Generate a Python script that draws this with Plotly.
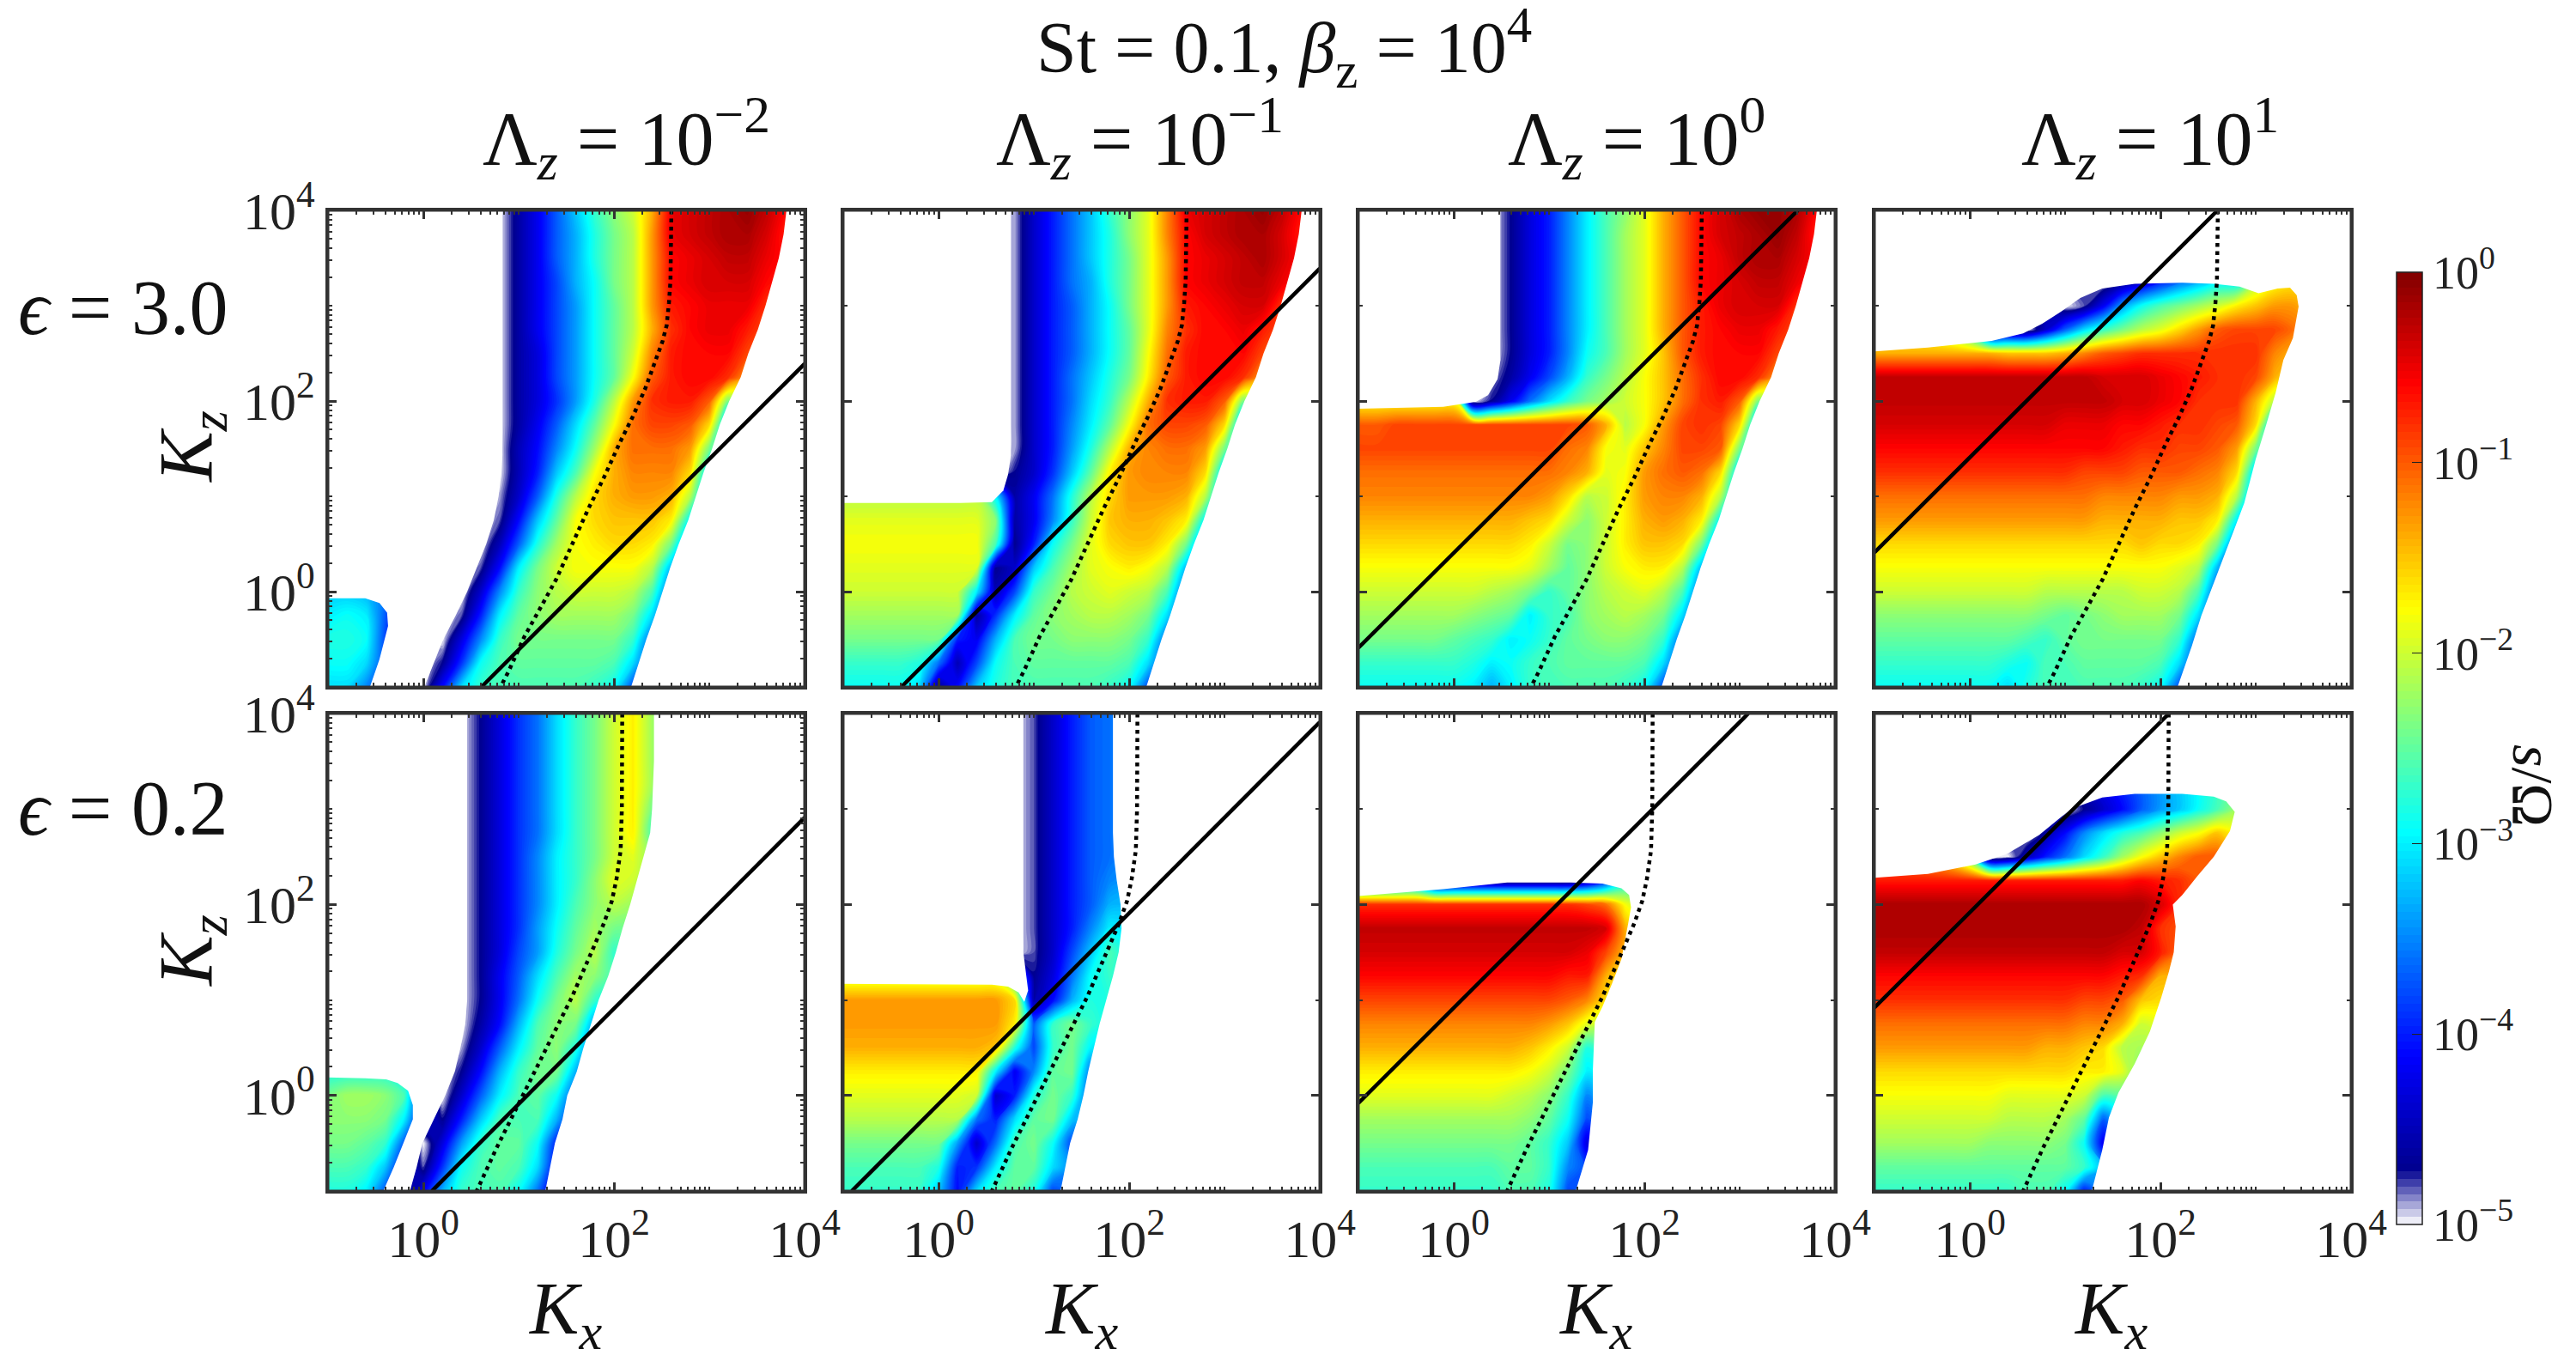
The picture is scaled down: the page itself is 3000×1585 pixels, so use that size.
import numpy as np
import plotly.graph_objects as go

_ = None
LOG_KX = [-1 + 0.2 * i for i in range(26)]
LOG_KZ_DOWN = [4 - 0.25 * j for j in range(21)]

# values are -10*log10(s/Omega); None = not read (covered by the blank region)
P11 = [
[50]*10+[46,42,37,32,27,23,20,14,5,4,3,2,1,3,6],
[50]*10+[46,42,37,33,28,24,21,13,5,4,3,2,2,4,7],
[50]*10+[46,42,37,33,28,24,21,13,6,5,4,3,3,5],
[50]*10+[46,42,38,33,29,24,21,13,6,5,4,4,4,6],
[50]*10+[46,42,38,34,29,25,21,13,7,6,5,5,5,8],
[50]*10+[46,42,38,34,29,25,21,14,8,6,5,5,7],
[50]*10+[46,43,38,34,29,25,20,12,7,6,6,6,9],
[50]*10+[46,43,38,34,29,25,18,10,7,6,6,8],
[50]*10+[46,43,39,34,28,21,13,8,7,7,10,24],
[50]*10+[46,42,37,31,25,18,11,9,9,10,16,34],
[50]*10+[45,41,35,29,22,14,11,11,11,13,24],
[50]*10+[45,40,32,26,18,14,12,12,12,16,32],
[50]*9+[49,44,37,28,21,16,14,13,13,14,21,36],
[50]*9+[48,41,32,25,18,16,15,15,15,17,30],
[50]*9+[45,37,28,22,18,17,16,16,17,24,38],
[50]*8+[48,41,30,24,20,18,18,18,18,21,33],
[32,32,33,36]+[50]*4+[44,35,27,23,21,20,20,20,21,26,38],
[30,29,30,37,_,_,50,48,40,30,25,23,22,22,22,22,24,31,40],
[28,28,29,38,_,_,50,43,35,27,24,24,24,24,24,24,27,37],
[29,29,31,_,_,50,47,39,29,26,25,25,25,25,25,26,31,40],
[31,31,35,_,_,50,41,31,27,26,26,26,26,26,27,29,38],
]
P12 = [
[50]*9+[49,44,40,36,32,27,23,19,12,5,4,3,2,1,3,6],
[50]*9+[49,44,40,36,32,28,23,19,12,6,4,3,2,2,4,7],
[50]*9+[49,44,40,36,32,28,24,19,13,6,5,4,3,2,4],
[50]*9+[49,44,40,36,33,28,24,19,13,6,5,4,3,3,5],
[50]*9+[49,44,40,37,33,29,24,19,13,7,6,5,4,4,8],
[50]*9+[49,44,40,37,33,29,25,19,12,8,6,6,5,7],
[50]*9+[49,44,40,37,33,29,25,18,11,7,6,6,6,9],
[50]*9+[49,44,40,36,32,28,24,17,10,7,6,6,8],
[50]*9+[49,44,40,36,31,27,21,14,8,7,7,10,24],
[50]*9+[49,44,40,35,30,25,18,11,9,9,10,16,34],
[50]*9+[49,44,40,34,28,21,14,12,11,11,13,24],
[50]*9+[47,44,39,32,25,17,13,12,12,12,16,32],
[21]*8+[30,46,42,36,28,21,16,13,13,13,14,21,36],
[19]*8+[23,46,42,35,27,20,15,14,14,15,17,30],
[18]*8+[26,47,40,29,24,19,16,15,15,17,24,38],
[19]*8+[47,44,32,26,22,19,18,17,18,21,33],
[20]*7+[30,45,38,27,24,21,20,19,20,21,26,38],
[22]*7+[46,39,30,25,23,22,21,21,22,24,31,40],
[24]*6+[40,42,33,26,24,24,23,23,23,24,27,37],
[27,27,27,27,28,36,45,38,29,26,25,25,25,25,25,26,31,40],
[29,29,29,29,31,47,41,32,28,26,26,26,26,26,27,29,38],
]
P13 = [
[50]*8+[47,43,40,35,30,26,23,19,14,10,6,4,2,1,1,2,6],
[50]*8+[47,43,40,35,30,26,22,19,14,10,6,4,3,2,1,3,7],
[50]*8+[47,43,40,35,30,26,22,19,14,10,6,5,3,2,2,4],
[50]*8+[47,43,40,35,30,26,22,19,14,10,6,5,4,3,3,5],
[50]*8+[47,43,40,35,30,26,22,19,14,10,7,5,4,4,4,8],
[50]*8+[47,43,40,35,30,26,22,19,14,10,7,6,5,5,7],
[50]*8+[47,43,40,35,29,26,22,19,15,10,7,6,6,6,9],
[50]*7+[49,46,42,38,33,27,24,21,18,15,11,8,6,6,8],
[18]*6+[50,47,42,36,31,27,24,22,20,18,15,11,8,7,10,24],
[10,10,9,9,9,9,9,9,9,9,9,9,10,14,21,18,13,9,8,9,16,34],
[9]*11+[11,12,18,19,15,12,9,9,10,24],
[11]*11+[12,14,19,18,13,11,10,11,16,32],
[12]*10+[13,16,21,20,17,13,12,12,14,21,36],
[14]*9+[15,16,20,23,20,17,14,13,14,17,30],
[16]*9+[17,20,24,23,20,17,15,15,16,24,38],
[18]*9+[19,22,25,23,20,18,17,17,21,33],
[20]*7+[21,22,24,27,25,23,21,20,19,21,26,38],
[22]*6+[23,24,25,30,27,26,23,22,21,22,24,31,40],
[24]*5+[25,26,27,30,29,27,25,24,23,23,24,27,37],
[27]*6+[28,30,29,27,26,25,25,25,25,26,31,40],
[29]*6+[30,33,30,27,26,26,26,26,27,29,38],
]
P14 = [
[_]*26,
[_]*26,
[_]*26,
[_]*12+[50,47,44,40,36,33,30,30],
[_]*10+[50,48,42,34,29,26,24,22,20,17,15,13,13],
[_]*6+[50,50,50,44,37,31,27,24,21,19,16,13,10,9,9,9,11],
[14]*7+[15,15,15,14,12,10,9,8,8,8,8,8,8,8,12],
[3]*12+[4,4,4,5,6,7,8,8,9,14],
[3]*13+[4,4,5,6,8,8,8,14],
[4]*10+[5,5,5,6,6,7,8,8,9,10,16,34],
[6]*13+[7,8,8,9,9,10,13,24],
[8]*11+[9,9,9,10,10,10,11,12,16,32],
[11]*12+[12,12,12,12,13,13,14,21,36],
[13]*12+[14,14,14,14,15,15,17,30],
[16]*14+[15,16,16,17,24,38],
[18]*15+[18,19,21,33],
[20]*9+[21,21,21,21,21,20,20,21,26,38],
[23]*9+[24,25,24,23,22,22,22,24,31,40],
[25]*8+[26,27,25,24,24,24,24,24,27,37],
[27]*7+[28,29,26,26,25,25,25,25,26,31,40],
[29]*7+[31,28,26,26,26,26,26,27,29,38],
]
P21 = [
[50]*8+[47,43,39,36,31,27,24,20,17,22],
[50]*8+[47,43,39,36,31,27,24,20,17,22],
[50]*8+[47,43,39,36,31,27,24,20,17,22],
[50]*8+[47,43,39,36,31,27,24,20,17,22],
[50]*8+[47,43,39,36,31,27,24,20,17,24],
[50]*8+[47,43,39,36,31,27,24,20,17,26],
[50]*8+[47,43,39,35,30,27,24,20,19],
[50]*8+[47,43,39,35,30,27,23,19,20],
[50]*8+[47,43,39,35,30,26,23,21],
[50]*8+[47,43,39,34,29,25,22,24],
[50]*8+[47,43,38,34,28,24,21,27],
[50]*8+[47,42,37,31,26,22,23],
[50]*8+[47,42,36,29,24,21,27],
[50]*8+[46,41,33,26,23,24,34],
[50]*7+[49,44,37,30,25,23,28,38],
[28,28,28,28,30,50,50,47,41,33,27,24,24,33],
[24,22,22,23,26,_,50,44,37,30,26,25,29,38],
[23,23,23,24,30,_,47,40,32,26,26,26,33,42],
[24,24,25,27,_,50,43,34,27,25,25,29,40],
[26,26,27,32,_,48,39,29,26,25,26,31,42],
[28,28,30,_,50,42,33,27,26,26,29,36,45],
]
P22 = [
[50]*10+[48,44,40,37,36],
[50]*10+[48,44,40,37,36],
[50]*10+[48,44,40,37,36],
[50]*10+[48,44,40,37,36],
[50]*10+[48,44,40,37,36],
[50]*10+[48,44,40,37,36],
[50]*10+[48,44,40,37,36],
[50]*10+[48,44,40,37,35],
[50]*10+[48,44,40,37,33],
[50]*10+[48,44,40,35,30],
[50]*10+[48,44,38,32,26],
[20]*9+[30,47,43,36,29,27],
[13]*9+[16,46,41,33,28,28],
[13]*9+[17,37,27,24,27],
[14]*8+[15,28,38,27,24,30],
[17]*8+[30,42,35,25,24,36],
[19]*7+[20,44,40,28,24,27,38],
[21]*7+[36,40,31,25,24,32],
[24]*6+[34,44,36,26,24,29,38],
[26]*5+[28,40,39,30,25,25,31],
[27]*4+[27,32,41,31,26,25,28,38],
]
P23 = [
[_]*26,[_]*26,[_]*26,[_]*26,[_]*26,[_]*26,[_]*26,
[40]*4+[50]*8+[47,40],
[8]*12+[9,11,18],
[3]*12+[3,4,14],
[4]*12+[5,9],
[6]*10+[6,7,7,14],
[9]*10+[9,10,12],
[12]*10+[13,15,19],
[14]*9+[15,17,20,28],
[17]*9+[18,20,24,30],
[19]*8+[20,21,23,27,35],
[22]*9+[23,25,29,38],
[24]*9+[25,27,32,43],
[26]*8+[25,25,27,35],
[27]*8+[26,26,28,38],
]
P24 = [
[_]*26,[_]*26,[_]*26,[_]*26,
[_]*10+[50,47,44,41,37,34,32,29,26],
[_]*8+[50,46,41,35,31,28,26,23,20,18,15],
[_]*6+[50,50,45,40,36,31,27,22,18,15,12,10,10],
[7]*14+[6,7,8],
[2]*15+[4],
[2]*14+[3,8],
[3]*13+[4,4,7],
[6]*13+[7,8,14],
[8]*11+[9,9,10,15],
[11]*11+[12,12,14,20],
[13]*9+[14,14,15,16,21],
[16]*11+[17,17,19,25],
[18]*7+[19,19,19,19,20,26],
[20]*7+[21,21,21,22,25,37],
[22]*6+[23,23,23,23,24,29,42],
[25]*11+[27,33],
[27]*8+[26,26,29,40],
]
PANELS = [P11, P12, P13, P14, P21, P22, P23, P24]

SOLID_LOGX = [[0.61,4],[-0.39,4],[-1,3.61],[-1,2.6],[0.09,4],[-0.91,4],[-1,3.09],[-1,2.09]]
SOLID_LOGZ = [[-1,2.39],[-1,3.39],[-0.59,4],[0.41,4],[-1,2.91],[-1,3.91],[-0.08,4],[0.92,4]]
DOT_TOP_LOGX = [2.603,2.603,2.593,2.577,2.553,2.51,2.427,2.327,2.193,2.06,1.893,1.727,1.56,1.393,1.227,1.06,0.893,0.81]
DOT_TOP_LOGZ = [4,3.593,3.26,3.027,2.793,2.627,2.393,2.127,1.827,1.56,1.193,0.86,0.493,0.127,-0.173,-0.473,-0.84,-1]
DOT_BOT_LOGX = [2.087,2.087,2.083,2.07,2.027,1.977,1.893,1.793,1.693,1.56,1.427,1.293,1.16,1.027,0.893,0.76,0.56]
DOT_BOT_LOGZ = [4,3.433,3,2.567,2.267,2.033,1.8,1.567,1.333,1.033,0.767,0.5,0.233,-0.033,-0.3,-0.567,-1]

# edges of the blank (no growth) regions, in log10 units
EDGE_RIGHT_TOP = [3.81,3.78,3.73,3.66,3.59,3.51,3.41,3.33,3.21,3.11,3.03,2.94,2.86,2.78,2.68,2.59,2.51,2.43,2.34,2.26,2.18]
EDGE_RIGHT_P21 = [2.42,2.42,2.42,2.41,2.40,2.38,2.31,2.24,2.17,2.09,2.02,1.94,1.84,1.76,1.68,1.61,1.51,1.46,1.38,1.33,1.28]
EDGE_RIGHT_P22 = [1.83,1.83,1.83,1.83,1.83,1.83,1.84,1.87,1.91,1.92,1.89,1.83,1.76,1.69,1.63,1.57,1.52,1.46,1.38,1.33,1.28]
BLANK_P11_X = [-1,.83,.83,.82,.79,.74,.66,.56,.46,.34,.21,.11,.01,-.56,-.46,-.37,-.38,-.46,-.61,-1]
BLANK_P11_Z = [4,4,1.43,1.25,1,.75,.5,.25,0,-.25,-.5,-.75,-1,-1,-.71,-.36,-.22,-.12,-.07,-.07]
BLANK_P12_X = [-1,.76,.76,.73,.68,.56,.23,-1]
BLANK_P12_Z = [4,4,1.43,1.23,1.06,.94,.93,.93]
BLANK_P13_X = [-1,.49,.49,.49,.46,.36,.23,-.11,-1]
BLANK_P13_Z = [4,4,2.66,2.43,2.23,2.06,1.99,1.94,1.92]
BLANK_P14_X = [-1,-.44,.23,.56,.76,.96,1.16,1.39,1.73,2.23,2.56,2.83,3.03,3.23,3.36,3.43,3.45,3.39,3.29,3.21,3.11,3.0,2.88,2.69,2.56,2.43,2.33,2.18,4,4,-1]
BLANK_P14_Z = [2.52,2.56,2.63,2.71,2.81,2.94,3.08,3.18,3.23,3.24,3.23,3.2,3.13,3.18,3.19,3.11,2.99,2.66,2.43,2.09,1.75,1.39,.93,.43,.09,-.25,-.57,-1,-1,4,4]
BLANK_P21_X = [-1,.46,.46,.44,.39,.33,.23,.11,-.01,-.07,-.14,-.42,-.31,-.21,-.11,-.11,-.16,-.27,-.39,-.61,-1]
BLANK_P21_Z = [4,4,1,.75,.5,.25,0,-.25,-.5,-.75,-1,-1,-.75,-.5,-.25,-.1,.05,.13,.17,.18,.19]
BLANK_P22_X = [-1,.89,.89,.92,.94,.90,.84,.73,.56,-1]
BLANK_P22_Z = [4,4,1.5,1.23,1.1,.98,1.08,1.14,1.16,1.17]
BLANK_P23_X = [-1,-.11,.56,1.23,1.56,1.76,1.84,1.86,1.83,1.76,1.66,1.56,1.48,1.46,1.46,1.41,1.28,4,4,-1]
BLANK_P23_Z = [2.09,2.16,2.23,2.23,2.22,2.17,2.1,1.97,1.8,1.43,1.17,.93,.77,.27,-.07,-.57,-1,-1,4,4]
BLANK_P24_X = [-1,-.44,.06,.39,.73,1.06,1.39,1.73,2.23,2.56,2.69,2.78,2.73,2.56,2.39,2.23,2.13,2.16,2.14,2.09,2.01,1.89,1.73,1.56,1.46,1.39,1.28,4,4,-1]
BLANK_P24_Z = [2.28,2.32,2.42,2.53,2.73,3,3.12,3.16,3.16,3.13,3.08,2.97,2.77,2.5,2.3,2.1,2,1.77,1.5,1.3,1.03,.67,.33,.03,-.23,-.57,-1,-1,4,4]

def right_blank(edge):
    return edge + [4, 4], LOG_KZ_DOWN + [-1, 4]

BLANKS = [
    [right_blank(EDGE_RIGHT_TOP), (BLANK_P11_X, BLANK_P11_Z)],
    [right_blank(EDGE_RIGHT_TOP), (BLANK_P12_X, BLANK_P12_Z)],
    [right_blank(EDGE_RIGHT_TOP), (BLANK_P13_X, BLANK_P13_Z)],
    [(BLANK_P14_X, BLANK_P14_Z)],
    [right_blank(EDGE_RIGHT_P21), (BLANK_P21_X, BLANK_P21_Z)],
    [right_blank(EDGE_RIGHT_P22), (BLANK_P22_X, BLANK_P22_Z)],
    [(BLANK_P23_X, BLANK_P23_Z)],
    [(BLANK_P24_X, BLANK_P24_Z)],
]

COL_TITLES = ["Λ<sub><i>z</i></sub> = 10<sup>−2</sup>", "Λ<sub><i>z</i></sub> = 10<sup>−1</sup>",
              "Λ<sub><i>z</i></sub> = 10<sup>0</sup>", "Λ<sub><i>z</i></sub> = 10<sup>1</sup>"]
TICK_VALS = [1, 100, 10000]
TICK_TEXT = ["10<sup>0</sup>", "10<sup>2</sup>", "10<sup>4</sup>"]
CB_VALS = [-5, -4, -3, -2, -1, 0]
CB_TEXT = ["10<sup>−5</sup>", "10<sup>−4</sup>", "10<sup>−3</sup>", "10<sup>−2</sup>", "10<sup>−1</sup>", "10<sup>0</sup>"]

W, H = 3000, 1585
X0 = [382, 982, 1582, 2183]
PW = 555
ROWS = [(245, 800), (831, 1387)]
FONT = "Liberation Serif, serif"
INK = "#333333"
SCALE = [[0, "rgb(255,255,255)"], [0.058, "rgb(0,0,143)"], [0.176, "rgb(0,0,255)"], [0.294, "rgb(0,128,255)"],
         [0.412, "rgb(0,255,255)"], [0.529, "rgb(128,255,128)"], [0.646, "rgb(255,255,0)"], [0.764, "rgb(255,128,0)"],
         [0.882, "rgb(255,0,0)"], [1, "rgb(128,0,0)"]]

decades_minor = [10.0**k for k in (-1, 1, 3)]
full_minor = sorted(decades_minor + [m * 10.0**k for k in range(-1, 4) for m in range(2, 10)])

fig = go.Figure()
layout = dict(width=W, height=H, margin=dict(l=0, r=0, t=0, b=0, autoexpand=False), paper_bgcolor="white", plot_bgcolor="white",
              showlegend=False, font=dict(family=FONT, color="#222222"))
shapes = []
kx = [10**v for v in LOG_KX]
kz = [10**v for v in LOG_KZ_DOWN][::-1]

for n, rows in enumerate(PANELS):
    r, c = n // 4, n % 4
    suffix = "" if n == 0 else str(n + 1)
    z = np.full((21, 26), np.nan)
    for j, row in enumerate(rows):
        for i, v in enumerate(row[:26]):
            if v is not None:
                z[20 - j, i] = -v / 10
    trace = dict(x=kx, y=kz, z=z, xaxis="x" + suffix, yaxis="y" + suffix, autocontour=False, zauto=False, zmin=-5, zmax=0,
                 contours=dict(start=-5, end=0, size=0.04, coloring="fill", showlines=False),
                 line=dict(width=0), colorscale=SCALE, hoverinfo="skip", connectgaps=True, showscale=n == 0)
    if n == 0:
        trace["colorbar"] = dict(x=2791 / W, xanchor="left", xpad=0, y=1 - 1426 / H, yanchor="bottom", ypad=0,
                                 len=(1426 - 317) / H, lenmode="fraction", thickness=30, thicknessmode="pixels",
                                 outlinewidth=1.5, outlinecolor="#222222", tickvals=CB_VALS, ticktext=CB_TEXT,
                                 ticks="inside", ticklen=12, tickwidth=1, tickcolor="#222222",
                                 tickfont=dict(size=54, family=FONT, color="#222222"))
    fig.add_trace(go.Contour(**trace))
    for bx, bz in BLANKS[n]:
        fig.add_trace(go.Scatter(x=[10**v for v in bx], y=[10**v for v in bz], mode="lines", fill="toself", fillcolor="white",
                                 line=dict(width=0, color="white"), xaxis="x" + suffix, yaxis="y" + suffix, hoverinfo="skip"))
    fig.add_trace(go.Scatter(x=[10**v for v in SOLID_LOGX[n]], y=[10**v for v in SOLID_LOGZ[n]], mode="lines",
                             line=dict(color="black", width=4.5), xaxis="x" + suffix, yaxis="y" + suffix, hoverinfo="skip"))
    dx, dz = (DOT_TOP_LOGX, DOT_TOP_LOGZ) if r == 0 else (DOT_BOT_LOGX, DOT_BOT_LOGZ)
    fig.add_trace(go.Scatter(x=[10**v for v in dx], y=[10**v for v in dz], mode="lines", line=dict(color="black", width=4.5, dash="4.5px,5px"),
                             xaxis="x" + suffix, yaxis="y" + suffix, hoverinfo="skip"))
    common = dict(type="log", showgrid=False, zeroline=False, layer="above traces", showline=True, linecolor=INK, linewidth=3,
                  mirror="allticks", ticks="inside", ticklen=10, tickwidth=3, tickcolor=INK, tickvals=TICK_VALS, ticktext=TICK_TEXT,
                  tickfont=dict(size=62, family=FONT, color="#222222"))
    xname = "xaxis" + suffix
    yname = "yaxis" + suffix
    top, bot = ROWS[r]
    layout[xname] = dict(common, domain=[X0[c] / W, (X0[c] + PW) / W], range=[-1, 4], anchor="y" + suffix, showticklabels=r == 1,
                         minor=dict(ticks="inside", ticklen=5, tickwidth=2, tickcolor=INK, tickvals=full_minor))
    layout[yname] = dict(common, domain=[1 - bot / H, 1 - top / H], range=[-1, 4], anchor="x" + suffix, showticklabels=c == 0,
                         minor=dict(ticks="inside", ticklen=5, tickwidth=2, tickcolor=INK, tickvals=full_minor if c == 0 else decades_minor))
    shapes.append(dict(type="rect", xref="x%s domain" % suffix, yref="y%s domain" % suffix, x0=0, x1=1, y0=0, y1=1,
                       line=dict(color=INK, width=3), layer="above"))

def note(text, px, py, size, angle=0):
    return dict(text=text, xref="paper", yref="paper", x=px / W, y=1 - py / H, xanchor="center", yanchor="middle",
                showarrow=False, textangle=angle, font=dict(size=size, family=FONT, color="#111111"))

ann = [note("St = 0.1, <i>β</i><sub>z</sub> = 10<sup>4</sup>", 1495, 56, 84)]
for t, px in zip(COL_TITLES, [729, 1327, 1906, 2504]):
    ann.append(note(t, px, 160, 88))
ann.append(note("<i>ϵ</i> = 3.0", 143, 358, 90))
ann.append(note("<i>ϵ</i> = 0.2", 143, 941, 90))
ann.append(note("<i>K</i><sub><i>z</i></sub>", 222, 521, 88, -90))
ann.append(note("<i>K</i><sub><i>z</i></sub>", 222, 1108, 88, -90))
for px in [658, 1259, 1858, 2458]:
    ann.append(note("<i>K</i><sub><i>x</i></sub>", px, 1530, 86))
ann.append(note("<i>s</i>/Ω", 2950, 915, 68, 90))

layout["shapes"] = shapes
layout["annotations"] = ann
fig.update_layout(**layout)
fig.write_html("out.html", post_script="document.body.style.margin='0';", config={"displayModeBar": False})
